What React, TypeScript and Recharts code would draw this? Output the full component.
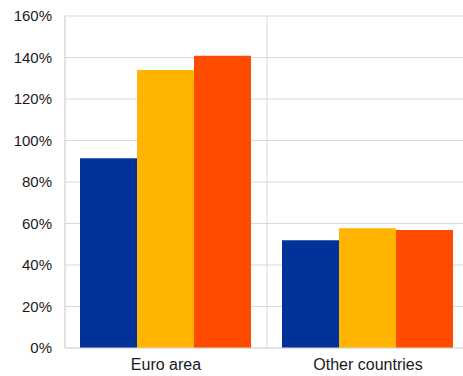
import React from "react";
import { BarChart, Bar, XAxis, YAxis, CartesianGrid } from "recharts";

const categories = ["Euro area", "Other countries"];
const seriesA = [91.4, 51.9];
const seriesB = [134, 57.7];
const seriesC = [140.8, 56.9];
const yTicks = [0, 20, 40, 60, 80, 100, 120, 140, 160];

const colors = ["#003299", "#FFB400", "#FF4B00"];

const data = categories.map((name, i) => ({
  name,
  a: seriesA[i],
  b: seriesB[i],
  c: seriesC[i],
}));

const gridColor = "#d9d9d9";
const font = "'Liberation Sans', Arial, sans-serif";

// vertical separators at the category boundaries
const boundaryLines = ({ offset }: any) => {
  const n = categories.length;
  const out: number[] = [];
  for (let i = 0; i <= n; i++) out.push(offset.left + (i * offset.width) / n);
  return out;
};

export default function App() {
  return (
    <div
      style={{
        position: "absolute",
        left: 0,
        top: 0,
        width: 463,
        height: 376,
        overflow: "hidden",
        background: "#fff",
      }}
    >
      <BarChart
        width={469}
        height={376}
        data={data}
        margin={{ top: 16, right: 0, bottom: 0, left: 0 }}
        barCategoryGap={15}
        barGap={0}
      >
        <CartesianGrid
          stroke={gridColor}
          verticalCoordinatesGenerator={boundaryLines}
        />
        <XAxis
          dataKey="name"
          height={28}
          tickSize={0}
          tickMargin={11}
          axisLine={{ stroke: gridColor }}
          tickLine={false}
          tick={{ fill: "#1a1a1a", fontSize: 16, fontFamily: font }}
        />
        <YAxis
          width={65}
          domain={[0, 160]}
          ticks={yTicks}
          interval={0}
          tickFormatter={(v: number) => `${v}%`}
          tickSize={0}
          tickMargin={13}
          axisLine={{ stroke: gridColor }}
          tickLine={false}
          tick={{ fill: "#1a1a1a", fontSize: 15, fontFamily: font }}
        />
        <Bar dataKey="a" fill={colors[0]} isAnimationActive={false} />
        <Bar dataKey="b" fill={colors[1]} isAnimationActive={false} />
        <Bar dataKey="c" fill={colors[2]} isAnimationActive={false} />
      </BarChart>
    </div>
  );
}
